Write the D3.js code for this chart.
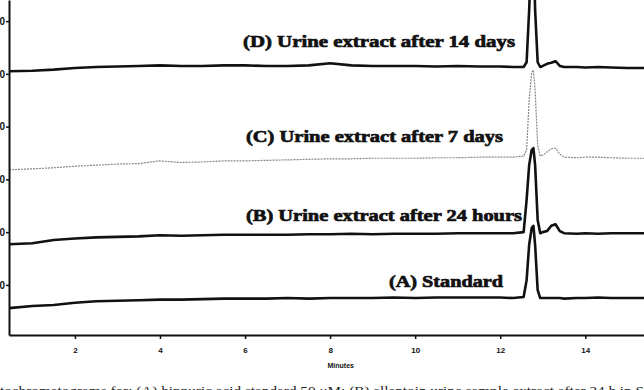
<!DOCTYPE html>
<html>
<head>
<meta charset="utf-8">
<script src="https://cdn.jsdelivr.net/npm/d3@7"></script>
<style>
  html, body { margin: 0; padding: 0; background: #fff; }
  svg { display: block; }
</style>
</head>
<body>
<svg width="644" height="390"></svg>
<script>
// retention times (minutes), shared by all four traces
var times = [0.45, 1.0, 1.5, 2.0, 2.5, 3.0, 3.5, 4.0, 4.5, 5.0, 5.5, 6.0, 6.5, 7.0, 7.5, 8.0,
  8.5, 9.0, 9.5, 10.0, 10.5, 11.0, 11.5, 12.0, 12.3, 12.55, 12.62, 12.68, 12.74, 12.78, 12.82,
  12.88, 12.94, 13.0, 13.1, 13.2, 13.3, 13.4, 13.5, 13.8, 14.0, 14.3, 14.6, 15.0, 15.4];

// detector response (stacked, arbitrary units)
var traceD = [5.05, 5.06, 5.08, 5.11, 5.13, 5.14, 5.15, 5.16, 5.15, 5.15, 5.16, 5.16, 5.15, 5.15, 5.16, 5.20,
  5.16, 5.15, 5.15, 5.15, 5.14, 5.15, 5.14, 5.14, 5.13, 5.13, 5.22, 6.21, 7.5, 7.5, 6.21,
  5.22, 5.13, 5.15, 5.19, 5.21, 5.24, 5.15, 5.13, 5.13, 5.12, 5.13, 5.12, 5.11, 5.11];
var traceC = [3.18, 3.20, 3.22, 3.25, 3.27, 3.29, 3.30, 3.35, 3.32, 3.33, 3.35, 3.35, 3.36, 3.37, 3.38, 3.39,
  3.39, 3.40, 3.40, 3.40, 3.41, 3.41, 3.42, 3.42, 3.42, 3.44, 3.56, 4.50, 5.03, 5.07, 4.69,
  3.65, 3.44, 3.46, 3.52, 3.58, 3.59, 3.48, 3.42, 3.41, 3.42, 3.42, 3.41, 3.40, 3.40];
var traceB = [1.77, 1.79, 1.85, 1.88, 1.90, 1.91, 1.92, 1.94, 1.93, 1.94, 1.95, 1.95, 1.95, 1.95, 1.96, 1.96,
  1.97, 1.96, 1.97, 1.97, 1.97, 1.98, 1.98, 1.98, 1.98, 2.00, 2.61, 3.27, 3.56, 3.59, 3.27,
  2.23, 1.98, 2.00, 2.02, 2.12, 2.15, 2.02, 1.98, 1.97, 1.98, 1.97, 1.98, 1.98, 1.98];
var traceA = [0.56, 0.60, 0.62, 0.66, 0.69, 0.70, 0.71, 0.72, 0.72, 0.73, 0.74, 0.74, 0.74, 0.75, 0.74, 0.75,
  0.75, 0.75, 0.76, 0.75, 0.76, 0.76, 0.76, 0.76, 0.75, 0.77, 1.09, 1.76, 2.08, 2.12, 1.76,
  0.90, 0.75, 0.75, 0.75, 0.75, 0.75, 0.75, 0.74, 0.75, 0.75, 0.76, 0.75, 0.75, 0.75];

var xTicks = [2, 4, 6, 8, 10, 12, 14];
var yTicks = [1, 2, 3, 4, 5, 6];

var traceLabels = [
  "(D) Urine extract after 14 days",
  "(C) Urine extract after 7 days",
  "(B) Urine extract after 24 hours",
  "(A) Standard"
];
var caption = "tochromatograms for: (A) hippuric acid standard 50 \u03bcM; (B) allantoin urine sample extract after 24 h in S";

var svg = d3.select("svg");

var xScale = d3.scaleLinear().domain([0.45, 15.38]).range([9, 644]),
    yScale = d3.scaleLinear().domain([0.05, 6.4]).range([335, 0]);

svg.append("clipPath").attr("id", "plot")
  .append("rect").attr("x", 9).attr("y", 0).attr("width", 640).attr("height", 335);

var line = d3.line()
  .x(function (d) { return xScale(d[0]); })
  .y(function (d) { return yScale(d[1]); });

function pairs(vals) { return times.map(function (t, i) { return [t, vals[i]]; }); }

var traces = [
  { vals: traceD, color: "#111", width: 2.6, dash: null },
  { vals: traceC, color: "#888", width: 1.2, dash: "2,1" },
  { vals: traceB, color: "#111", width: 2.6, dash: null },
  { vals: traceA, color: "#111", width: 2.6, dash: null }
];

svg.append("g").attr("clip-path", "url(#plot)")
  .selectAll("path")
  .data(traces)
  .enter()
  .append("path")
  .attr("d", function (d) { return line(pairs(d.vals)); })
  .attr("fill", "none")
  .attr("stroke", function (d) { return d.color; })
  .attr("stroke-width", function (d) { return d.width; })
  .attr("stroke-dasharray", function (d) { return d.dash; })
  .attr("stroke-linejoin", "round");

// axes
var xAxis = svg.append("g")
  .attr("transform", "translate(0," + yScale(0.05) + ")")
  .call(d3.axisBottom(xScale).tickValues(xTicks).tickSize(4).tickPadding(8).tickSizeOuter(0));
xAxis.select(".domain").attr("stroke", "#111").attr("stroke-width", 2);
xAxis.selectAll(".tick line").attr("stroke", "#111").attr("stroke-width", 1.5);
xAxis.selectAll("text")
  .style("font-family", "Liberation Sans, Arial, sans-serif")
  .style("font-weight", "bold")
  .style("font-size", "8px")
  .attr("fill", "#111");

// y tick labels run off the left edge, as in the scan
var yAxis = svg.append("g")
  .attr("transform", "translate(" + xScale(0.45) + ",0)")
  .call(d3.axisLeft(yScale).tickValues(yTicks).tickSize(3).tickPadding(1).tickSizeOuter(0)
    .tickFormat(function (d) { return d * 10; }));
yAxis.select(".domain").attr("stroke", "#111").attr("stroke-width", 2);
yAxis.selectAll(".tick line").attr("stroke", "#111").attr("stroke-width", 1.5);
yAxis.selectAll("text")
  .style("font-family", "Liberation Sans, Arial, sans-serif")
  .style("font-weight", "bold")
  .style("font-size", "10px")
  .attr("fill", "#111");

svg.append("text")
  .attr("x", xScale(8.25))
  .attr("y", 368)
  .attr("text-anchor", "middle")
  .style("font-family", "Liberation Sans, Arial, sans-serif")
  .style("font-weight", "bold")
  .style("font-size", "7px")
  .attr("fill", "#111")
  .text("Minutes");

// trace labels
var labelPos = [[243, 47, 272], [246, 142, 257], [246, 221, 276], [389, 287, 114]];
svg.append("g")
  .selectAll("text")
  .data(traceLabels)
  .enter()
  .append("text")
  .attr("x", function (d, i) { return labelPos[i][0]; })
  .attr("y", function (d, i) { return labelPos[i][1]; })
  .attr("textLength", function (d, i) { return labelPos[i][2]; })
  .attr("lengthAdjust", "spacingAndGlyphs")
  .style("font-family", "Liberation Serif, Times New Roman, serif")
  .style("font-weight", "bold")
  .style("font-size", "17px")
  .attr("fill", "#111")
  .attr("stroke", "#111")
  .attr("stroke-width", 0.7)
  .text(function (d) { return d; });

// figure caption, cut off by the bottom edge
svg.append("text")
  .attr("x", 0)
  .attr("y", 395)
  .attr("textLength", 644)
  .attr("lengthAdjust", "spacingAndGlyphs")
  .style("font-family", "Liberation Serif, Times New Roman, serif")
  .style("font-size", "13px")
  .attr("fill", "#222")
  .text(caption);
</script>
</body>
</html>
